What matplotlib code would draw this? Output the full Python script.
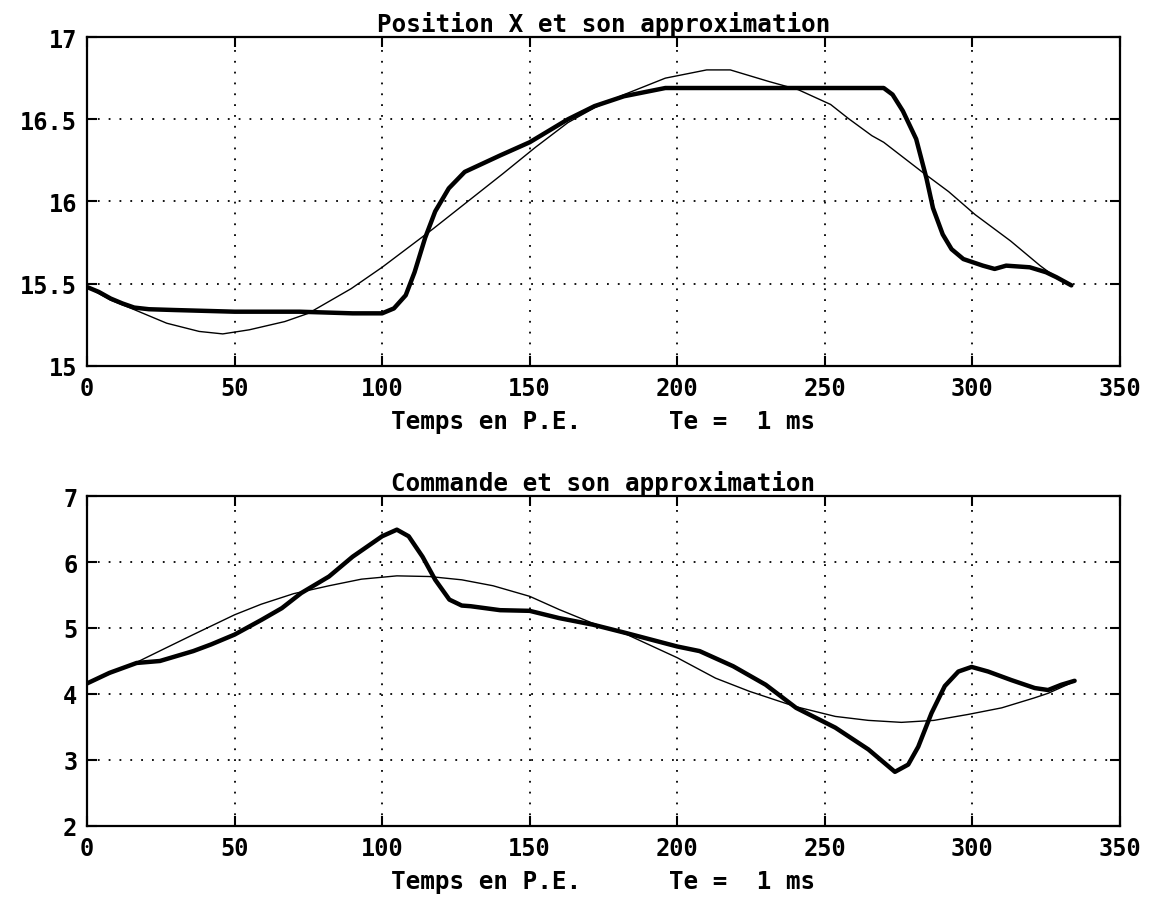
import matplotlib
matplotlib.use("Agg")
import matplotlib.pyplot as plt

# Position X : mesure (trait epais) et approximation (trait fin)
pos_t = [0, 4, 8, 12, 16, 21, 30, 50, 72, 90, 100, 104, 108, 111, 114.6, 118,
         122.6, 128, 134, 140, 150, 163, 172, 182, 196, 240, 270, 273, 276.5,
         281, 284.5, 286.7, 290, 293, 297, 303.6, 307.6, 311.5, 319.5, 325,
         328.5, 333.6]
pos_x = [15.48, 15.45, 15.41, 15.38, 15.355, 15.345, 15.34, 15.33, 15.33, 15.32,
         15.32, 15.35, 15.43, 15.57, 15.78, 15.94, 16.08, 16.18, 16.23, 16.28,
         16.36, 16.5, 16.58, 16.64, 16.69, 16.69, 16.69, 16.65, 16.55, 16.38,
         16.14, 15.96, 15.80, 15.71, 15.65, 15.61, 15.59, 15.61, 15.60, 15.57,
         15.54, 15.49]

pos_ta = [0, 8, 15, 27, 38, 46, 55, 67, 75, 89.5, 100, 117, 129, 141, 152, 163,
          172, 182, 196, 210, 218, 231, 241, 252, 258, 266, 270, 283, 292, 301,
          313, 323, 326, 333.6]
pos_xa = [15.48, 15.40, 15.35, 15.26, 15.21, 15.195, 15.22, 15.27, 15.32, 15.47,
          15.60, 15.83, 16.0, 16.17, 16.33, 16.48, 16.57, 16.65, 16.75, 16.80,
          16.80, 16.73, 16.68, 16.59, 16.505, 16.40, 16.36, 16.18, 16.06, 15.92,
          15.76, 15.61, 15.57, 15.49]

# Commande : mesure et approximation
cmd_t = [0, 7.6, 16.8, 24.7, 36, 42, 50, 59, 66, 72.6, 82, 90, 100, 105, 109,
         113.7, 118, 122.8, 127, 130, 140, 150, 160, 171.5, 183, 200, 207.6,
         219, 230, 240.3, 253.6, 264.8, 273.8, 278.3, 281.7, 286.2, 290.7,
         295.3, 299.8, 305.4, 313.3, 321.2, 325.7, 330.2, 334.7]
cmd_u = [4.16, 4.32, 4.47, 4.50, 4.65, 4.75, 4.90, 5.12, 5.30, 5.53, 5.78, 6.08,
         6.39, 6.49, 6.39, 6.08, 5.73, 5.43, 5.34, 5.33, 5.27, 5.26, 5.15, 5.05,
         4.92, 4.72, 4.65, 4.42, 4.14, 3.79, 3.49, 3.16, 2.82, 2.93, 3.20, 3.71,
         4.12, 4.34, 4.41, 4.34, 4.21, 4.09, 4.06, 4.14, 4.20]

cmd_ta = [0, 16.8, 25, 36, 50, 59, 70, 82, 93, 105, 116, 127, 137.6, 150, 160,
          171.5, 183, 200, 213, 224.5, 240, 253.6, 264.8, 276, 287, 298.6, 310,
          321, 325.7, 334.7]
cmd_ua = [4.16, 4.48, 4.66, 4.90, 5.20, 5.36, 5.52, 5.64, 5.74, 5.79, 5.78, 5.73,
          5.64, 5.48, 5.28, 5.07, 4.90, 4.55, 4.24, 4.04, 3.81, 3.66, 3.60, 3.57,
          3.60, 3.69, 3.79, 3.94, 4.01, 4.19]

x_ticks = [0, 50, 100, 150, 200, 250, 300, 350]
x_labels = ["0", "50", "100", "150", "200", "250", "300", "350"]
pos_ticks = [15, 15.5, 16, 16.5, 17]
pos_labels = ["15", "15.5", "16", "16.5", "17"]
cmd_ticks = [2, 3, 4, 5, 6, 7]
cmd_labels = ["2", "3", "4", "5", "6", "7"]

titles = ["Position X et son approximation", "Commande et son approximation"]
xlabel = "Temps en P.E.      Te =  1 ms"

plt.rcParams["font.family"] = ["DejaVu Sans Mono"]
plt.rcParams["font.weight"] = "bold"

fig = plt.figure(figsize=(11.5, 9.03), dpi=100)
ax1 = fig.add_axes([0.0757, 0.5936, 0.898, 0.3643])
ax2 = fig.add_axes([0.0757, 0.0842, 0.898, 0.3654])

panels = [
    (ax1, pos_t, pos_x, pos_ta, pos_xa, pos_ticks, pos_labels, (15, 17)),
    (ax2, cmd_t, cmd_u, cmd_ta, cmd_ua, cmd_ticks, cmd_labels, (2, 7)),
]

for i, (ax, t, y, ta, ya, yt, yl, ylim) in enumerate(panels):
    ax.plot(ta, ya, color="black", linewidth=1.0)
    ax.plot(t, y, color="black", linewidth=3.2, solid_capstyle="round")
    ax.set_xlim(0, 350)
    ax.set_ylim(*ylim)
    ax.set_xticks(x_ticks)
    ax.set_xticklabels(x_labels)
    ax.set_yticks(yt)
    ax.set_yticklabels(yl)
    ax.grid(True, color="black", linestyle=(0, (1, 5)), linewidth=1.3)
    ax.tick_params(direction="in", top=True, right=True, length=7, width=1.5,
                   labelsize=17, pad=7)
    for sp in ax.spines.values():
        sp.set_linewidth(1.6)
    ax.set_title(titles[i], fontsize=17.5, fontweight="bold", pad=4)
    ax.set_xlabel(xlabel, fontsize=17.5, fontweight="bold", labelpad=7)

fig.savefig("out.png", dpi=100)
